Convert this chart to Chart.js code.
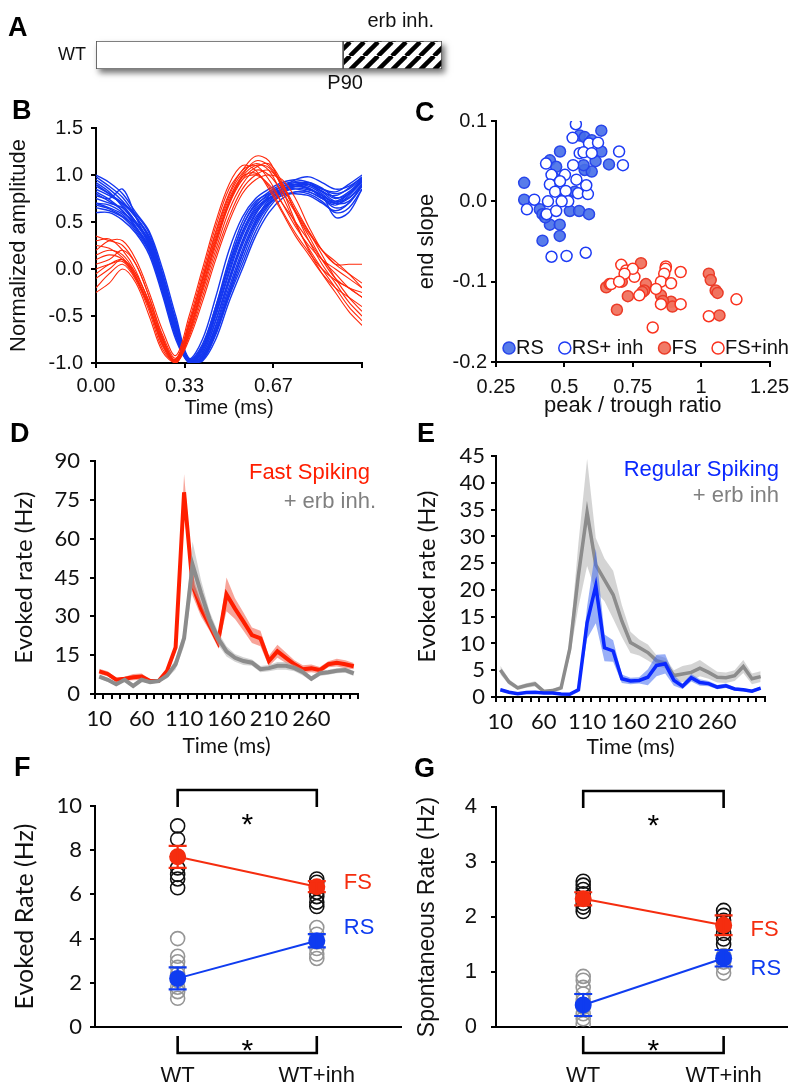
<!DOCTYPE html>
<html>
<head>
<meta charset="utf-8">
<script src="https://cdn.jsdelivr.net/npm/chart.js@4.4.1/dist/chart.umd.min.js"></script>
<style>
body { margin: 0; background: #fff; }
#fig { position: relative; width: 800px; height: 1086px; overflow: hidden; background: #fff; }
#fig canvas { position: absolute; }
.tag { position: absolute; z-index: 5; font: bold 27px "Liberation Sans", Arial, sans-serif; line-height: 1; color: #000; }
</style>
</head>
<body>
<div id="fig">
  <div class="tag" style="left:8px;top:14px">A</div>
  <div class="tag" style="left:12px;top:97px">B</div>
  <div class="tag" style="left:415px;top:99px">C</div>
  <div class="tag" style="left:10px;top:420px">D</div>
  <div class="tag" style="left:417px;top:420px">E</div>
  <div class="tag" style="left:14px;top:754px">F</div>
  <div class="tag" style="left:414px;top:755px">G</div>
</div>
<script>
// ---- A: timeline ----
const aRow = ['WT'];
const aPeriods = [[0, 90], [90, 126]];
const aTexts = ['erb inh.', 'P90'];

// ---- B: waveforms ----
const bTime = [0, 0.05, 0.1, 0.15, 0.2, 0.25, 0.3, 0.35, 0.4, 0.45, 0.5, 0.55, 0.6, 0.65, 0.7, 0.75, 0.8, 0.85, 0.9, 0.95, 1.0];
const bTickValues = [0, 0.333, 0.667, 1.0];
const bTickLabels = ['0.00', '0.33', '0.67', ''];
const rsWaves = [
  [1.0, 0.92, 0.8, 0.6, 0.4, 0.0, -0.5, -0.95, -0.75, -0.3, 0.2, 0.55, 0.75, 0.85, 0.92, 0.95, 0.92, 0.85, 0.82, 0.9, 1.0],
  [0.95, 0.85, 0.72, 0.55, 0.32, -0.1, -0.6, -0.98, -0.85, -0.45, 0.05, 0.45, 0.7, 0.82, 0.9, 0.93, 0.9, 0.82, 0.78, 0.86, 0.98],
  [0.9, 0.8, 0.68, 0.5, 0.28, -0.15, -0.62, -0.97, -0.9, -0.55, -0.1, 0.3, 0.6, 0.78, 0.88, 0.92, 0.9, 0.83, 0.75, 0.82, 0.95],
  [0.85, 0.78, 0.7, 0.58, 0.38, -0.05, -0.55, -0.96, -0.8, -0.4, 0.1, 0.5, 0.72, 0.8, 0.85, 0.88, 0.85, 0.78, 0.72, 0.8, 0.92],
  [0.8, 0.72, 0.62, 0.45, 0.22, -0.2, -0.68, -1.0, -0.95, -0.65, -0.25, 0.15, 0.5, 0.72, 0.85, 0.9, 0.88, 0.8, 0.7, 0.75, 0.9],
  [0.75, 0.7, 0.65, 0.5, 0.3, -0.12, -0.6, -0.98, -0.88, -0.5, -0.05, 0.35, 0.62, 0.75, 0.82, 0.85, 0.82, 0.75, 0.68, 0.78, 0.93],
  [0.7, 0.65, 0.58, 0.42, 0.2, -0.22, -0.7, -1.0, -0.97, -0.7, -0.3, 0.05, 0.4, 0.65, 0.8, 0.88, 0.86, 0.78, 0.7, 0.72, 0.88],
  [0.65, 0.62, 0.55, 0.4, 0.18, -0.25, -0.72, -0.99, -0.92, -0.6, -0.15, 0.25, 0.55, 0.7, 0.78, 0.82, 0.8, 0.72, 0.6, 0.65, 0.85],
  [0.6, 0.6, 0.52, 0.38, 0.15, -0.28, -0.75, -1.0, -0.98, -0.75, -0.35, 0.0, 0.35, 0.6, 0.75, 0.82, 0.82, 0.75, 0.65, 0.7, 0.88],
  [0.88, 0.8, 0.7, 0.55, 0.35, -0.05, -0.55, -0.96, -0.82, -0.4, 0.05, 0.45, 0.68, 0.78, 0.85, 0.88, 0.9, 0.85, 0.8, 0.85, 0.96],
  [0.78, 0.75, 0.85, 0.55, 0.25, -0.18, -0.65, -0.99, -0.9, -0.55, -0.12, 0.28, 0.58, 0.75, 0.82, 0.86, 0.84, 0.78, 0.55, 0.6, 0.85],
  [0.92, 0.82, 0.66, 0.48, 0.26, -0.14, -0.62, -0.98, -0.93, -0.62, -0.2, 0.2, 0.52, 0.74, 0.86, 0.95, 0.98, 0.92, 0.85, 0.88, 0.97],
  [0.7, 0.68, 0.6, 0.48, 0.3, -0.08, -0.58, -0.97, -0.86, -0.48, -0.02, 0.38, 0.64, 0.76, 0.8, 0.8, 0.78, 0.7, 0.62, 0.7, 0.9],
  [0.82, 0.74, 0.62, 0.44, 0.2, -0.22, -0.7, -1.0, -0.96, -0.68, -0.28, 0.1, 0.45, 0.68, 0.82, 0.9, 0.92, 0.86, 0.76, 0.8, 0.94],
  [0.98, 0.88, 0.76, 0.56, 0.33, -0.08, -0.57, -0.97, -0.84, -0.44, 0.02, 0.4, 0.66, 0.8, 0.88, 0.9, 0.86, 0.76, 0.7, 0.8, 0.95],
  [0.68, 0.64, 0.56, 0.44, 0.24, -0.18, -0.66, -0.99, -0.94, -0.66, -0.24, 0.16, 0.48, 0.7, 0.84, 0.9, 0.9, 0.82, 0.72, 0.76, 0.9]
];
const fsWaves = [
  [0.35, 0.3, 0.25, 0.05, -0.3, -0.7, -0.95, -0.6, -0.1, 0.4, 0.8, 1.05, 1.1, 0.95, 0.7, 0.45, 0.25, 0.1, 0.0, -0.1, -0.2],
  [0.2, 0.3, 0.3, 0.1, -0.25, -0.65, -0.92, -0.5, 0.0, 0.5, 0.9, 1.1, 1.05, 0.85, 0.6, 0.35, 0.15, -0.05, -0.2, -0.3, -0.4],
  [0.1, 0.15, 0.1, -0.1, -0.4, -0.78, -1.0, -0.7, -0.25, 0.2, 0.62, 0.9, 1.05, 1.0, 0.82, 0.6, 0.38, 0.2, 0.05, -0.05, -0.15],
  [0.05, 0.1, 0.2, 0.05, -0.3, -0.72, -0.98, -0.62, -0.15, 0.35, 0.75, 1.0, 1.15, 1.1, 0.9, 0.6, 0.3, 0.05, -0.15, -0.35, -0.5],
  [-0.05, 0.05, 0.1, -0.05, -0.35, -0.75, -0.97, -0.65, -0.2, 0.3, 0.7, 0.95, 1.0, 0.9, 0.7, 0.5, 0.3, 0.1, -0.05, -0.2, -0.3],
  [-0.2, -0.05, 0.05, -0.12, -0.45, -0.85, -0.99, -0.72, -0.3, 0.15, 0.55, 0.85, 1.0, 1.05, 0.9, 0.65, 0.4, 0.15, -0.1, -0.3, -0.45],
  [0.3, 0.32, 0.2, -0.02, -0.38, -0.8, -0.96, -0.55, -0.05, 0.45, 0.85, 1.05, 1.2, 1.15, 0.85, 0.5, 0.2, -0.05, -0.25, -0.45, -0.6],
  [-0.25, -0.15, 0.0, -0.15, -0.5, -0.88, -1.0, -0.75, -0.35, 0.1, 0.5, 0.8, 0.95, 1.0, 0.95, 0.75, 0.45, 0.2, 0.05, 0.05, 0.05],
  [0.15, 0.2, 0.15, -0.05, -0.35, -0.74, -0.98, -0.6, -0.1, 0.38, 0.78, 1.02, 1.12, 1.05, 0.78, 0.48, 0.22, 0.0, -0.2, -0.4, -0.55],
  [0.0, 0.05, 0.08, -0.1, -0.42, -0.8, -0.99, -0.68, -0.22, 0.25, 0.68, 0.95, 1.08, 1.12, 0.92, 0.6, 0.35, 0.1, -0.1, -0.2, -0.25],
  [0.25, 0.22, 0.12, -0.08, -0.4, -0.76, -0.97, -0.58, -0.12, 0.32, 0.72, 0.98, 1.02, 0.88, 0.62, 0.38, 0.18, 0.0, -0.12, -0.2, -0.3],
  [-0.1, 0.0, 0.1, -0.08, -0.4, -0.82, -1.0, -0.66, -0.18, 0.28, 0.7, 0.98, 1.1, 1.08, 0.88, 0.62, 0.4, 0.2, 0.08, -0.05, -0.2]
];

// ---- C: peak/trough ratio vs end slope ----
const cRS = [[0.353, 0.023], [0.353, 0.002], [0.41, -0.01], [0.42, -0.016], [0.447, -0.029], [0.483, -0.029], [0.42, -0.049], [0.483, -0.043], [0.484, 0.062], [0.447, 0.051], [0.47, 0.043], [0.52, -0.012], [0.554, -0.012], [0.59, -0.016], [0.556, 0.082], [0.574, 0.08], [0.6, 0.076], [0.635, 0.088], [0.635, 0.062], [0.614, 0.05], [0.663, 0.046], [0.574, 0.039], [0.6, 0.037], [0.502, 0.004], [0.538, 0.012], [0.46, 0.03], [0.43, -0.02], [0.57, 0.045]];
const cRSinh = [[0.542, 0.096], [0.53, 0.079], [0.59, 0.072], [0.623, 0.073], [0.556, 0.06], [0.57, 0.061], [0.7, 0.062], [0.714, 0.045], [0.433, 0.047], [0.532, 0.045], [0.453, 0.033], [0.502, 0.033], [0.447, 0.021], [0.484, 0.025], [0.544, 0.027], [0.39, 0.002], [0.363, -0.01], [0.44, 0.0], [0.466, 0.012], [0.505, 0.013], [0.514, 0.0], [0.55, 0.01], [0.586, 0.009], [0.435, -0.016], [0.47, -0.012], [0.453, -0.069], [0.508, -0.068], [0.578, -0.064], [0.6, 0.06], [0.58, 0.02], [0.49, 0.0]];
const cFS = [[0.78, -0.077], [0.653, -0.107], [0.692, -0.135], [0.732, -0.118], [0.798, -0.103], [0.792, -0.111], [0.853, -0.117], [0.89, -0.125], [0.895, -0.131], [1.028, -0.09], [1.035, -0.098], [1.053, -0.111], [1.06, -0.114], [1.067, -0.142], [0.665, -0.103], [0.71, -0.1], [0.785, -0.113], [0.86, -0.124]];
const cFSinh = [[0.708, -0.079], [0.726, -0.086], [0.756, -0.094], [0.75, -0.084], [0.671, -0.103], [0.774, -0.117], [0.871, -0.081], [0.87, -0.084], [0.865, -0.09], [0.853, -0.1], [0.89, -0.102], [0.925, -0.088], [0.835, -0.109], [0.853, -0.128], [0.925, -0.128], [0.823, -0.157], [1.028, -0.143], [1.129, -0.122], [0.72, -0.09], [0.7, -0.1]];
const cLabels = ['RS', 'RS+ inh', 'FS', 'FS+inh'];
const cXTicks = ['0.25', '0.5', '0.75', '1', '1.25'];

// ---- D / E: PSTHs ----
const timeBins = [10, 20, 30, 40, 50, 60, 70, 80, 90, 100, 110, 120, 130, 140, 150, 160, 170, 180, 190, 200, 210, 220, 230, 240, 250, 260, 270, 280, 290, 300, 310];
const timeTickLabels = ['10', '60', '110', '160', '210', '260'];
const dFS = [8.75, 7.75, 5.5, 5.9, 6.5, 6.75, 5, 5, 9, 18, 78, 42, 33, 26.5, 20, 38.5, 33, 28, 22.75, 21.5, 12.75, 16.5, 14, 11.5, 9.6, 9.9, 9.25, 11.5, 12.1, 11.5, 10.75];
const dFSsem = [1, 1, 0.8, 0.8, 1.2, 1.2, 0.6, 0.6, 1, 2, 7, 4, 3, 2, 2, 6.5, 4, 3.5, 3, 3, 2, 2.5, 2, 1.5, 1.5, 1.5, 1.2, 1.2, 1.5, 1.5, 1.2];
const dInh = [6.75, 5.5, 3.75, 5.5, 3.1, 5.5, 4.6, 5, 7.1, 11.5, 21.5, 50, 39, 29, 21.5, 16.5, 14, 12.75, 12.1, 9.6, 10, 10.9, 10.9, 10, 8.4, 5.9, 8, 8.4, 9, 9.25, 8];
const dInhSem = [0.8, 0.8, 0.6, 0.6, 0.6, 0.6, 0.6, 0.6, 1, 2, 3, 9, 5, 3, 2.5, 2, 1.5, 1.5, 1.2, 1.2, 1.2, 1.5, 1.5, 1.2, 1.2, 1, 1, 1, 1, 1, 1];
const dLegend = ['Fast Spiking', '+ erb inh.'];
const eRS = [1.35, 0.9, 0.6, 0.85, 0.9, 0.75, 0.75, 0.55, 0.5, 1.35, 13.9, 20.8, 9.2, 8.6, 3.4, 3.0, 3.1, 3.7, 5.9, 6.2, 3.1, 2.0, 3.6, 2.7, 2.5, 1.85, 2.1, 1.5, 1.35, 1.1, 1.65];
const eRSsem = [0.3, 0.2, 0.2, 0.2, 0.2, 0.2, 0.2, 0.2, 0.2, 0.4, 3, 7, 2.5, 2, 0.8, 0.6, 0.6, 1.5, 2, 1.8, 1, 0.5, 0.7, 0.6, 0.5, 0.4, 0.4, 0.3, 0.3, 0.3, 0.3];
const eInh = [5.05, 2.8, 1.7, 2.15, 2.45, 1.05, 1.2, 1.7, 9, 22.8, 34.5, 24.7, 21.9, 19.1, 14.2, 10.2, 9.25, 8.3, 6.8, 6.35, 4.0, 4.3, 4.6, 5.4, 4.6, 3.7, 3.6, 4.0, 5.7, 3.4, 3.8];
const eInhSem = [0.8, 0.5, 0.4, 0.4, 0.5, 0.3, 0.3, 0.4, 1.5, 6, 10, 5, 4, 4.5, 3, 2, 1.5, 1.5, 1, 1, 1, 1.5, 1.5, 1.5, 1.2, 1, 1, 1, 1.2, 1, 1];
const eLegend = ['Regular Spiking', '+ erb inh'];

// ---- F / G: per-animal rates ----
const groups = ['WT', 'WT+inh'];
const fFSwt = [9.1, 8.5, 7.7, 7.2, 6.9, 6.7, 6.3];
const fFSinh = [6.7, 6.55, 6.3, 6.1, 5.9, 5.65, 5.45];
const fRSwt = [4.0, 3.2, 2.95, 2.7, 2.4, 2.1, 1.8, 1.6, 1.3];
const fRSinh = [4.5, 4.2, 3.85, 3.55, 3.3, 3.1];
const fFSmean = [7.7, 6.35], fFSsem = [0.5, 0.25];
const fRSmean = [2.2, 3.9], fRSsem = [0.5, 0.3];
const gFSwt = [2.65, 2.58, 2.5, 2.42, 2.33, 2.25, 2.18, 2.1];
const gFSinh = [2.12, 2.03, 1.94, 1.82, 1.7, 1.6, 1.5];
const gRSwt = [0.92, 0.85, 0.72, 0.6, 0.48, 0.36, 0.24, 0.15, 0.06];
const gRSinh = [1.3, 1.18, 1.08, 0.98];
const gFSmean = [2.33, 1.85], gFSsem = [0.12, 0.18];
const gRSmean = [0.4, 1.25], gRSsem = [0.2, 0.15];
const cellLabels = ['FS', 'RS'];

const SANS = '"Liberation Sans", Arial, sans-serif';
const LATO = 'Lato, "Open Sans", sans-serif';
const RED = 'rgb(255,40,10)';
const BLUE = 'rgb(20,55,240)';
const GREY = 'rgb(140,140,140)';

Chart.defaults.font.family = SANS;
Chart.defaults.color = '#111';
Chart.defaults.animation = false;
Chart.defaults.events = [];
Chart.defaults.plugins.legend.display = false;
Chart.defaults.plugins.tooltip.enabled = false;

// put a chart so that its plot area lands on 'area' (page px)
function place(area, box, config) {
  const c = document.createElement('canvas');
  c.width = area.r - area.l + box.yW + box.right;
  c.height = area.b - area.t + box.top + box.xH;
  c.style.left = (area.l - box.yW) + 'px';
  c.style.top = (area.t - box.top) + 'px';
  document.getElementById('fig').appendChild(c);
  const o = config.options;
  o.responsive = false;
  o.devicePixelRatio = 1;
  const xHidden = o.scales.x.display === false;
  o.layout = { padding: { left: 0, top: box.top, right: box.right, bottom: xHidden ? box.xH : 0 } };
  if (!xHidden) o.scales.x.afterFit = s => { s.height = box.xH; };
  o.scales.y.afterFit = s => { s.width = box.yW; };
  return new Chart(c, config);
}

function axis(family, size, extra) {
  const base = {
    border: { color: '#000', width: 2 },
    grid: { drawOnChartArea: false, color: '#000', lineWidth: 2, tickLength: 5 },
    ticks: { font: { family: family, size: size }, color: '#111', padding: 4, autoSkip: false }
  };
  for (const k in extra) {
    const v = extra[k];
    if (v && typeof v === 'object' && !Array.isArray(v) && base[k]) Object.assign(base[k], v);
    else base[k] = v;
  }
  return base;
}

function title(text, family, size, pad) {
  return { display: true, text: text, color: '#111', font: { family: family, size: size }, padding: pad };
}

// ---------- A ----------
const hatch = (() => {
  const p = document.createElement('canvas');
  p.width = 14; p.height = 14;
  const g = p.getContext('2d');
  g.fillStyle = '#fff'; g.fillRect(0, 0, 14, 14);
  g.strokeStyle = '#000'; g.lineWidth = 4.5;
  for (const o of [-14, 0, 14]) { g.beginPath(); g.moveTo(o, 14); g.lineTo(o + 14, 0); g.stroke(); }
  return g.createPattern(p, 'repeat');
})();

place({ l: 96, t: 41, r: 442, b: 69 }, { yW: 96, xH: 31, top: 41, right: 18 }, {
  type: 'bar',
  data: {
    labels: aRow,
    datasets: [
      { data: [aPeriods[0]], backgroundColor: '#fff' },
      { data: [aPeriods[1]], backgroundColor: hatch }
    ].map(d => Object.assign(d, { grouped: false, barPercentage: 1, categoryPercentage: 1, borderColor: '#555', borderWidth: 1.2, borderSkipped: false }))
  },
  options: {
    indexAxis: 'y',
    scales: {
      x: { display: false, min: aPeriods[0][0], max: aPeriods[1][1] },
      y: { grid: { display: false, drawTicks: false }, border: { display: false }, ticks: { font: { size: 18 }, color: '#111', padding: 10 } }
    }
  },
  plugins: [{
    id: 'aDeco',
    beforeDatasetsDraw(chart) {
      const ctx = chart.ctx, a = chart.chartArea;
      ctx.save();
      ctx.shadowColor = 'rgba(0,0,0,0.55)'; ctx.shadowBlur = 6; ctx.shadowOffsetX = 3; ctx.shadowOffsetY = 4;
      ctx.fillStyle = '#fff'; ctx.fillRect(a.left, a.top, a.right - a.left, a.bottom - a.top);
      ctx.restore();
    },
    afterDraw(chart) {
      const ctx = chart.ctx, a = chart.chartArea, xs = chart.scales.x;
      ctx.save();
      ctx.font = '20px ' + SANS; ctx.fillStyle = '#111'; ctx.textAlign = 'center'; ctx.textBaseline = 'middle';
      ctx.fillText(aTexts[0], xs.getPixelForValue(111), a.top - 20);
      ctx.fillText(aTexts[1], xs.getPixelForValue(aPeriods[1][0]) + 2, a.bottom + 14);
      ctx.restore();
    }
  }]
});

// ---------- B ----------
const wave = (w, color, lw) => ({ data: w.map((v, i) => ({ x: bTime[i], y: v })), borderColor: color, borderWidth: lw, pointRadius: 0, tension: 0.35 });
place({ l: 96, t: 124, r: 362, b: 363 }, { yW: 96, xH: 58, top: 16, right: 20 }, {
  type: 'line',
  data: { datasets: fsWaves.map(w => wave(w, RED, 1.1)).concat(rsWaves.map(w => wave(w, BLUE, 1.4))) },
  options: {
    scales: {
      x: axis(SANS, 20, {
        type: 'linear', min: 0, max: 1,
        afterBuildTicks: s => { s.ticks = bTickValues.map(v => ({ value: v })); },
        ticks: { callback: (v, i) => bTickLabels[i], padding: 6, maxRotation: 0 },
        title: title('Time (ms)', SANS, 20, { bottom: 1 })
      }),
      y: axis(SANS, 20, {
        min: -1, max: 1.5,
        ticks: { stepSize: 0.5, padding: 8, callback: v => v.toFixed(1) },
        title: title('Normalized amplitude', SANS, 22, { top: 6 })
      })
    }
  }
});

// ---------- C ----------
const dots = (arr, label, fill, stroke) => ({ label: label, data: arr.map(p => ({ x: p[0], y: p[1] })), pointRadius: 5.5, pointBackgroundColor: fill, pointBorderColor: stroke, pointBorderWidth: 1.5 });
place({ l: 496, t: 119, r: 771, b: 362 }, { yW: 96, xH: 58, top: 14, right: 26 }, {
  type: 'scatter',
  data: {
    datasets: [
      dots(cRSinh, cLabels[1], '#fff', 'rgb(30,60,245)'),
      dots(cFSinh, cLabels[3], '#fff', 'rgb(250,50,30)'),
      dots(cRS, cLabels[0], 'rgba(70,110,232,0.9)', 'rgb(40,70,235)'),
      dots(cFS, cLabels[2], 'rgba(240,115,95,0.95)', 'rgb(235,60,40)')
    ]
  },
  options: {
    scales: {
      x: axis(SANS, 20, { min: 0.25, max: 1.25, ticks: { stepSize: 0.25, padding: 8, callback: (v, i) => cXTicks[i] }, title: title('peak / trough ratio', SANS, 22, { bottom: 1 }) }),
      y: axis(SANS, 20, { min: -0.2, max: 0.1, ticks: { stepSize: 0.1, callback: v => v.toFixed(1) }, title: title('end slope', SANS, 22, { top: 14 }) })
    }
  },
  plugins: [{
    id: 'cLegend',
    afterDraw(chart) {
      const ctx = chart.ctx, a = chart.chartArea;
      const sets = chart.data.datasets;
      ctx.save();
      ctx.font = '20px ' + SANS; ctx.textBaseline = 'middle';
      let x = a.left + 13;
      const y = a.bottom - 14;
      cLabels.forEach(lbl => {
        const d = sets.find(s => s.label === lbl);
        ctx.beginPath(); ctx.arc(x, y, 6, 0, Math.PI * 2);
        ctx.fillStyle = d.pointBackgroundColor; ctx.fill();
        ctx.lineWidth = 1.5; ctx.strokeStyle = d.pointBorderColor; ctx.stroke();
        ctx.fillStyle = '#111'; ctx.fillText(lbl, x + 7, y);
        x += 7 + ctx.measureText(lbl).width + 21;
      });
      ctx.restore();
    }
  }]
});

// ---------- D / E ----------
function band(mean, sem, line, fill, width, label) {
  return [
    { label: label, data: mean, borderColor: line, borderWidth: width, pointRadius: 0, fill: false, borderJoinStyle: 'miter' },
    { data: mean.map((v, i) => v + sem[i]), borderColor: 'rgba(0,0,0,0)', borderWidth: 0, pointRadius: 0, fill: false },
    { data: mean.map((v, i) => Math.max(0, v - sem[i])), borderColor: 'rgba(0,0,0,0)', borderWidth: 0, pointRadius: 0, fill: '-1', backgroundColor: fill }
  ];
}
function timeAxis() {
  return axis(LATO, 22, {
    type: 'category', offset: true,
    grid: { offset: true },
    ticks: {
      maxRotation: 0, padding: 7,
      callback: function (v) { const l = String(this.getLabelForValue(v)); return timeTickLabels.includes(l) ? l : ''; }
    },
    title: title('Time (ms)', LATO, 21, { bottom: 1 })
  });
}
function legendText(dx, dy) {
  return {
    id: 'psthLegend',
    afterDraw(chart) {
      const ctx = chart.ctx, a = chart.chartArea;
      const named = chart.data.datasets.filter(d => d.label);
      ctx.save();
      ctx.font = '22px ' + SANS; ctx.textAlign = 'right'; ctx.textBaseline = 'middle';
      // coloured line first in the legend, grey second
      const order = [named.find(d => d.borderColor !== GREY), named.find(d => d.borderColor === GREY)];
      order.forEach((d, i) => {
        ctx.fillStyle = i === 0 ? d.borderColor : 'rgb(128,128,128)';
        ctx.fillText(d.label, a.right + dx[i], a.top + dy[i]);
      });
      ctx.restore();
    }
  };
}

place({ l: 95, t: 454, r: 358, b: 694 }, { yW: 95, xH: 66, top: 16, right: 40 }, {
  type: 'line',
  data: {
    labels: timeBins,
    datasets: band(dInh, dInhSem, GREY, 'rgba(175,175,175,0.55)', 4, dLegend[1])
      .concat(band(dFS, dFSsem, 'rgb(255,30,0)', 'rgba(240,90,70,0.55)', 4, dLegend[0]))
  },
  options: {
    scales: {
      x: timeAxis(),
      y: axis(LATO, 22, { min: 0, max: 90, ticks: { stepSize: 15, padding: 10 }, title: title('Evoked rate (Hz)', LATO, 24, { top: 10 }) })
    }
  },
  plugins: [legendText([12, 18], [12, 41])]
});

place({ l: 496, t: 453, r: 765, b: 697 }, { yW: 96, xH: 64, top: 16, right: 32 }, {
  type: 'line',
  data: {
    labels: timeBins,
    datasets: band(eRS, eRSsem, 'rgb(10,40,255)', 'rgba(70,110,240,0.55)', 3.5, eLegend[0])
      .concat(band(eInh, eInhSem, GREY, 'rgba(170,170,170,0.5)', 3.5, eLegend[1]))
  },
  options: {
    scales: {
      x: timeAxis(),
      y: axis(LATO, 22, { min: 0, max: 45, ticks: { stepSize: 5, padding: 6 }, title: title('Evoked rate (Hz)', LATO, 24, { top: 13 }) })
    }
  },
  plugins: [legendText([14, 14], [14, 40])]
});

// ---------- F / G ----------
function animals(vals, gi, color) {
  return { data: vals.map(v => ({ x: gi + 1, y: v })), pointRadius: 7, pointBorderWidth: 1.6, pointBorderColor: color, pointBackgroundColor: 'rgba(0,0,0,0)' };
}
function meanSet(mean, sem, color) {
  return { data: mean.map((v, i) => ({ x: i + 1, y: v })), sem: sem, showLine: true, borderColor: color, borderWidth: 2, pointRadius: 8.5, pointBackgroundColor: color, pointBorderWidth: 0 };
}
function groupPlugin(labelDy) {
  return {
    id: 'groupDeco',
    afterDatasetsDraw(chart) {
      const ctx = chart.ctx, xs = chart.scales.x, ys = chart.scales.y;
      ctx.save();
      chart.data.datasets.filter(d => d.sem).forEach(d => {
        ctx.strokeStyle = d.borderColor; ctx.lineWidth = 2.2;
        d.data.forEach((p, i) => {
          const x = xs.getPixelForValue(p.x), y1 = ys.getPixelForValue(p.y + d.sem[i]), y2 = ys.getPixelForValue(p.y - d.sem[i]);
          ctx.beginPath();
          ctx.moveTo(x, y1); ctx.lineTo(x, y2);
          ctx.moveTo(x - 9, y1); ctx.lineTo(x + 9, y1);
          ctx.moveTo(x - 9, y2); ctx.lineTo(x + 9, y2);
          ctx.stroke();
        });
      });
      ctx.restore();
    },
    afterDraw(chart) {
      const ctx = chart.ctx, a = chart.chartArea, xs = chart.scales.x, ys = chart.scales.y;
      const x1 = xs.getPixelForValue(1), x2 = xs.getPixelForValue(2);
      ctx.save();
      ctx.strokeStyle = '#000'; ctx.lineWidth = 2.6;
      ctx.beginPath();
      ctx.moveTo(x1, a.top + 1); ctx.lineTo(x1, a.top - 16); ctx.lineTo(x2, a.top - 16); ctx.lineTo(x2, a.top + 1);
      ctx.moveTo(x1, a.bottom + 9); ctx.lineTo(x1, a.bottom + 26); ctx.lineTo(x2, a.bottom + 26); ctx.lineTo(x2, a.bottom + 9);
      ctx.stroke();
      ctx.fillStyle = '#000'; ctx.textAlign = 'center'; ctx.font = '30px ' + SANS;
      ctx.fillText('*', (x1 + x2) / 2, a.top + 11 + 17);
      ctx.fillText('*', (x1 + x2) / 2, a.bottom + 16 + 17);
      ctx.font = '22px ' + SANS; ctx.textAlign = 'left'; ctx.textBaseline = 'middle';
      chart.data.datasets.filter(d => d.sem).forEach((d, i) => {
        ctx.fillStyle = d.borderColor;
        ctx.fillText(cellLabels[i], x2 + 27, ys.getPixelForValue(d.data[1].y) + labelDy[i]);
      });
      ctx.restore();
    }
  };
}
function groupAxis() {
  return axis(SANS, 22, {
    type: 'linear',
    grid: { display: false, drawTicks: false, tickLength: 0 },
    afterBuildTicks: s => { s.ticks = groups.map((g, i) => ({ value: i + 1 })); },
    ticks: { callback: (v, i) => groups[i], padding: 36, maxRotation: 0 }
  });
}

place({ l: 95, t: 806, r: 410, b: 1027 }, { yW: 95, xH: 59, top: 40, right: 0 }, {
  type: 'scatter',
  data: {
    datasets: [
      meanSet(fFSmean, fFSsem, 'rgb(245,45,15)'),
      meanSet(fRSmean, fRSsem, 'rgb(15,60,240)'),
      animals(fFSwt, 0, '#111'), animals(fFSinh, 1, '#111'),
      animals(fRSwt, 0, 'rgb(150,150,150)'), animals(fRSinh, 1, 'rgb(150,150,150)')
    ]
  },
  options: {
    scales: {
      x: Object.assign(groupAxis(), { min: 0.406, max: 2.608 }),
      y: axis(LATO, 22, { min: 0, max: 10, ticks: { stepSize: 2, padding: 8 }, title: title('Evoked Rate (Hz)', LATO, 25, { top: 10 }) })
    }
  },
  plugins: [groupPlugin([-4, -13])]
});

place({ l: 496, t: 807, r: 790, b: 1027 }, { yW: 96, xH: 59, top: 41, right: 10 }, {
  type: 'scatter',
  data: {
    datasets: [
      meanSet(gFSmean, gFSsem, 'rgb(245,45,15)'),
      meanSet(gRSmean, gRSsem, 'rgb(15,60,240)'),
      animals(gFSwt, 0, '#111'), animals(gFSinh, 1, '#111'),
      animals(gRSwt, 0, 'rgb(150,150,150)'), animals(gRSinh, 1, 'rgb(150,150,150)')
    ]
  },
  options: {
    scales: {
      x: Object.assign(groupAxis(), { min: 0.379, max: 2.45 }),
      y: axis(SANS, 22, { min: 0, max: 4, ticks: { stepSize: 1, padding: 14 }, title: title('Spontaneous Rate (Hz)', SANS, 23, { top: 14 }) })
    }
  },
  plugins: [groupPlugin([5, 11])]
});
</script>
</body>
</html>
